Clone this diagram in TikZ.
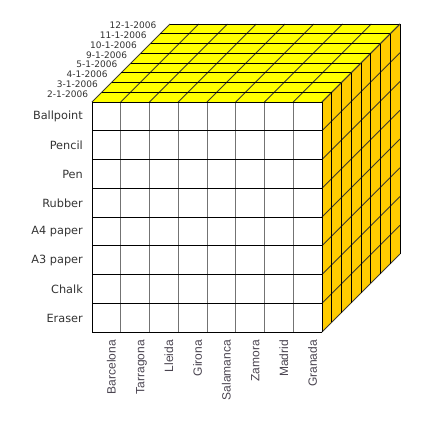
\documentclass[tikz,border=0pt]{standalone}
\usepackage{fontspec}
\setmainfont{DejaVu Sans}
\newfontfamily\colfont{Liberation Sans}
\definecolor{topyellow}{HTML}{FFFF00}
\definecolor{sidegold}{HTML}{FFCC00}
\definecolor{txt}{HTML}{333333}
\definecolor{coltxt}{HTML}{4A4450}
\tikzset{
  gridline/.style={line width=0.8pt, black},
  slantline/.style={line width=0.8pt, black!75!olive},
  frontv/.style={line width=0.8pt, black!55},
  rowlbl/.style={anchor=east, inner sep=0pt, text=txt, font=\fontsize{11.3}{13}\selectfont},
  collbl/.style={anchor=base east, rotate=90, inner sep=0pt, text=coltxt, font=\colfont\fontsize{12}{14}\selectfont},
  datelbl/.style={anchor=east, inner sep=0pt, text=txt, font=\fontsize{9}{11}\selectfont},
}
\begin{document}
\begin{tikzpicture}[x=1pt,y=-1pt]
\useasboundingbox (0,0) rectangle (442,429);
\def\X{92}\def\Y{102}\def\S{230}\def\C{28.75}\def\D{9.75}\def\DD{78}
% top face
\fill[topyellow] (\X,\Y) -- (\X+\S,\Y) -- (\X+\S+\DD,\Y-\DD) -- (\X+\DD,\Y-\DD) -- cycle;
% right face
\fill[sidegold] (\X+\S,\Y) -- (\X+\S+\DD,\Y-\DD) -- (\X+\S+\DD,\Y+\S-\DD) -- (\X+\S,\Y+\S) -- cycle;
% front face
\fill[white] (\X,\Y) rectangle (\X+\S,\Y+\S);
% top face lines
\foreach \j in {0,...,8} {
  \draw[slantline] (\X+\C*\j,\Y) -- (\X+\C*\j+\DD,\Y-\DD);
}
\foreach \i in {0,...,8} {
  \draw[gridline] (\X+\D*\i,\Y-\D*\i) -- (\X+\S+\D*\i,\Y-\D*\i);
}
% right face lines
\foreach \j in {0,...,8} {
  \draw[slantline] (\X+\S,\Y+\C*\j) -- (\X+\S+\DD,\Y+\C*\j-\DD);
}
\foreach \i in {0,...,8} {
  \draw[gridline] (\X+\S+\D*\i,\Y-\D*\i) -- (\X+\S+\D*\i,\Y+\S-\D*\i);
}
% front face lines
\foreach \j in {1,...,7} {
  \draw[frontv] (\X+\C*\j,\Y) -- (\X+\C*\j,\Y+\S);
}
\foreach \i in {0,...,8} {
  \draw[gridline] (\X,\Y+\C*\i) -- (\X+\S,\Y+\C*\i);
}
\draw[gridline] (\X,\Y) -- (\X,\Y+\S);
\draw[gridline] (\X+\S,\Y) -- (\X+\S,\Y+\S);
% row labels
\foreach \t [count=\k from 0] in {Ballpoint,Pencil,Pen,Rubber,A4 paper,A3 paper,Chalk,Eraser} {
  \node[rowlbl] (row\k) at (\X-9,\Y+\C*\k+\C/2+0.5) {\t};
}
% column labels
\foreach \t [count=\k from 0] in {Barcelona,Tarragona,Lleida,Girona,Salamanca,Zamora,Madrid,Granada} {
  \node[collbl] (col\k) at (\X+\C*\k+\C/2+9.3,\Y+\S+8) {\t};
}
% date labels
\foreach \t [count=\k from 1] in {2-1-2006,3-1-2006,4-1-2006,5-1-2006,9-1-2006,10-1-2006,11-1-2006,12-1-2006} {
  \node[datelbl] (date\k) at (\X+\D*\k-13.5,\Y-\D*\k+1.5) {\t};
}
\end{tikzpicture}
\end{document}
